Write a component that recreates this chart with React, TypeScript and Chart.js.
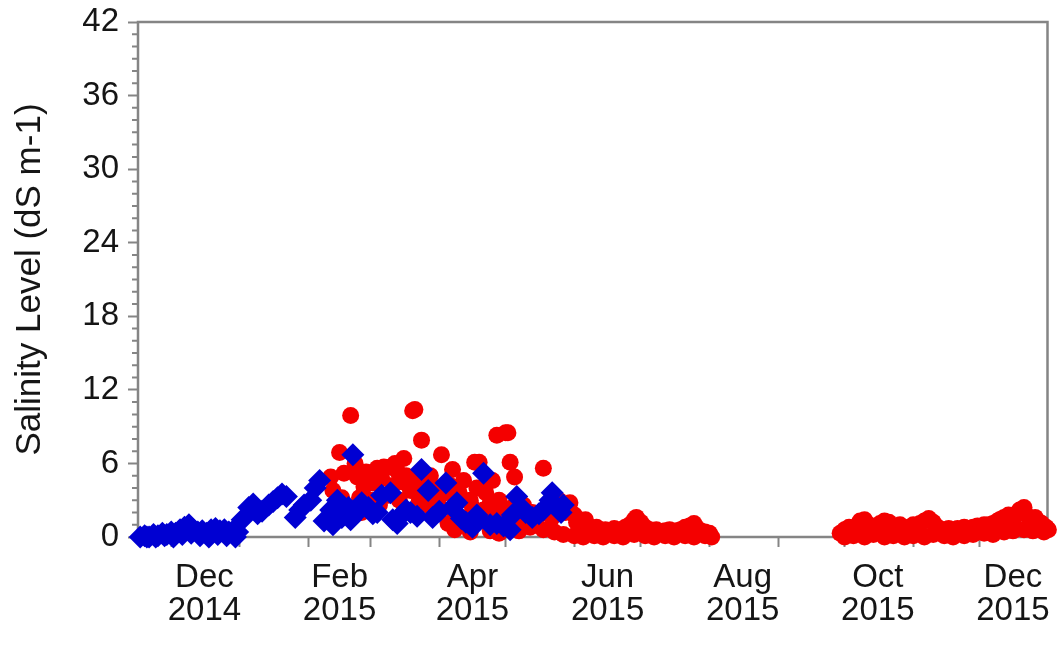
import { useEffect, useRef } from 'react';
import { Chart, registerables } from 'chart.js';

Chart.register(...registerables);

// x values are days counted from 1 Jan 2015 (negative = late 2014)
const blueDays = [
  -45, -43, -41, -39, -37, -35, -33, -31, -29, -27, -25, -23, -21, -19, -17, -15, -13, -11, -9, -7, -5, -3, -1,
  -42, -38, -34, -30, -26, -22, -18, -14, -10, -6, -2,
  1, 4, 6, 8, 10, 13, 15, 17, 19, 21, 25, 27, 29, 32, 34, 36, 38, 41, 42, 44, 46, 49, 50, 51, 53, 55, 58, 60, 62, 64,
  68, 69, 71, 73, 75, 77, 80, 82, 85, 87, 90, 93, 96, 98, 100, 102, 105, 107, 108, 110, 113, 116, 119, 122, 123, 125,
  127, 129, 132, 135, 137, 140, 141, 143, 145, 146,
];
const blueValues = [
  0.0, 0.1, 0.0, 0.2, 0.1, 0.3, 0.2, 0.4, 0.3, 0.6, 0.8, 1.0, 0.6, 0.4, 0.5, 0.3, 0.6, 0.7, 0.5, 0.6, 0.4, 0.5, 0.4,
  0.0, 0.0, 0.1, 0.0, 0.2, 0.3, 0.1, 0.0, 0.2, 0.1, 0.0,
  1.4, 2.4, 2.7, 1.9, 2.1, 2.6, 2.9, 3.2, 3.5, 3.3, 1.6, 2.2, 2.6, 3.0, 4.0, 4.6, 1.3, 2.2, 1.0, 3.0, 1.6, 2.4, 1.4, 6.7, 2.0, 2.8, 2.4, 1.9, 2.0, 3.4,
  3.6, 1.4, 1.1, 1.8, 2.2, 2.0, 1.7, 5.5, 3.8, 1.6, 2.1, 4.4, 2.4, 2.8, 1.5, 1.2, 0.8, 1.8, 1.4, 5.2, 1.0, 1.1, 0.9, 0.6, 1.8, 3.3,
  2.4, 2.0, 1.6, 1.9, 2.2, 3.0, 3.6, 2.4, 2.0, 2.6,
];

const redDays = [
  41, 42, 44, 45, 46, 47, 49, 50, 52, 53, 54, 55, 56, 57, 59, 60, 61, 62, 63, 64, 65, 67, 68, 69, 70, 71, 72, 73, 74, 75,
  77, 78, 79, 80, 81, 82, 83, 85, 86, 87, 88, 90, 91, 93, 94, 95, 96, 97, 98, 99, 100, 101, 102, 104, 105, 106, 107, 108,
  110, 111, 112, 113, 114, 115, 116, 117, 119, 120, 121, 122, 123, 124, 125, 126, 127, 128, 130, 132, 133, 135, 137, 139,
  141, 142, 144, 146, 147, 149, 151, 152, 154, 156, 158, 160, 161, 163, 165, 167, 169, 170, 172, 174, 176, 178, 179, 181,
  183, 185, 187, 188, 190, 192, 194, 196, 197, 199, 201, 203, 205, 206, 208, 210, 212,
  146, 151, 155, 160, 164, 169, 173, 178, 183, 187, 192, 196, 201, 205, 210, 213,
  97, 104, 113, 117, 126, 131, 137, 142,
  271, 273, 275, 277, 279, 280, 282, 284, 286, 288, 289, 291, 293, 295, 297, 298, 300, 302, 304, 306, 307, 309, 311, 313,
  315, 316, 318, 320, 322, 324, 325, 327, 329, 331, 333, 334, 336, 338, 340, 342, 343, 345, 347, 349, 351, 352, 354, 355,
  357, 359, 361, 362, 364, 365,
  273, 277, 282, 286, 291, 295, 300, 304, 309, 313, 318, 322, 327, 331, 336, 340, 345, 349, 354, 358, 363,
];
const redValues = [
  4.9, 3.8, 2.5, 6.9, 3.2, 5.2, 2.0, 9.9, 6.0, 4.9, 3.2, 2.0, 4.1, 5.3, 3.0, 4.4, 5.0, 5.6, 2.6, 4.8, 5.7, 3.4, 5.7, 4.2, 6.0, 5.4, 3.0, 4.5, 6.4, 5.0,
  3.8, 10.3, 10.4, 4.6, 3.0, 7.9, 4.4, 2.6, 5.0, 3.3, 4.0, 2.5, 6.7, 3.6, 1.1, 4.2, 5.5, 2.0, 3.6, 3.6, 1.6, 4.6, 1.4, 3.0, 2.4, 6.1, 4.0, 6.1,
  2.2, 3.6, 4.6, 2.8, 4.6, 1.8, 8.3, 3.0, 2.0, 8.5, 8.5, 6.1, 2.4, 4.9, 1.8, 2.8, 1.5, 2.6, 1.2, 2.0, 1.6, 1.8, 5.6, 2.2,
  1.6, 2.0, 3.0, 2.6, 2.0, 2.8, 1.8, 1.2, 1.0, 1.4, 0.8, 0.6, 0.8, 0.5, 0.6, 0.4, 0.7, 0.5, 0.6, 0.8, 1.0, 1.4, 1.6, 1.2,
  0.8, 0.6, 0.5, 0.6, 0.4, 0.5, 0.6, 0.4, 0.5, 0.6, 0.8, 0.9, 1.1, 0.8, 0.5, 0.4, 0.3,
  0.2, 0.1, 0.0, 0.1, 0.0, 0.1, 0.0, 0.2, 0.1, 0.0, 0.1, 0.0, 0.1, 0.0, 0.1, 0.0,
  0.6, 0.4, 0.5, 0.3, 0.5, 0.8, 0.6, 0.4,
  0.3, 0.6, 0.8, 0.6, 1.0, 1.3, 1.4, 1.0, 0.8, 0.9, 1.1, 1.3, 1.2, 0.9, 0.8, 1.0, 0.7, 0.8, 1.0, 0.9, 1.1, 1.3, 1.5, 1.2,
  0.8, 0.6, 0.6, 0.7, 0.6, 0.7, 0.6, 0.8, 0.7, 0.8, 0.9, 0.8, 1.0, 1.0, 1.1, 1.3, 1.4, 1.6, 1.8, 1.4, 1.9, 2.2, 2.4, 1.8,
  1.4, 1.6, 1.2, 1.1, 0.8, 0.6,
  0.0, 0.1, 0.0, 0.2, 0.0, 0.1, 0.0, 0.1, 0.0, 0.2, 0.1, 0.0, 0.1, 0.2, 0.3, 0.2, 0.4, 0.5, 0.6, 0.5, 0.4,
];

// month starts (tick marks) and mid-month label positions, in days from 1 Jan 2015
const monthStartDays = [-31, 0, 31, 59, 90, 120, 151, 181, 212, 243, 273, 304, 334];
const labelDays = [-16, 45, 105, 166, 227, 288, 349];
const labelTexts = [
  ['Dec', '2014'],
  ['Feb', '2015'],
  ['Apr', '2015'],
  ['Jun', '2015'],
  ['Aug', '2015'],
  ['Oct', '2015'],
  ['Dec', '2015'],
];
const xMin = -46;
const xMax = 364.6;
const yMin = 0;
const yMax = 42;
const yStep = 6;
const yTitle = 'Salinity Level (dS m-1)';

const AXIS = '#858585';
const TEXT = '#151515';
const FONT = 'Liberation Sans, Arial, sans-serif';

const framePlugin = {
  id: 'frame',
  beforeDatasetsDraw(chart: any) {
    const { ctx, chartArea: a, scales } = chart;
    ctx.save();
    ctx.strokeStyle = AXIS;
    ctx.lineWidth = 2.5;
    ctx.strokeRect(a.left, a.top, a.right - a.left, a.bottom - a.top);
    ctx.lineWidth = 2;
    ctx.beginPath();
    const y = scales.y;
    for (let v = yMin; v <= yMax; v++) {
      if (v % yStep === 0) continue;
      const py = y.getPixelForValue(v);
      ctx.moveTo(a.left - 6, py);
      ctx.lineTo(a.left, py);
    }
    ctx.stroke();
    ctx.restore();
  },
};

export default function App() {
  const ref = useRef<HTMLCanvasElement | null>(null);
  useEffect(() => {
    if (!ref.current) return;
    const chart = new Chart(ref.current, {
      type: 'scatter',
      data: {
        datasets: [
          {
            label: 'blue',
            data: blueDays.map((d, i) => ({ x: d, y: blueValues[i] })),
            pointStyle: 'rectRot',
            pointRadius: 11.5,
            backgroundColor: '#0000d2',
            borderColor: '#0000d2',
            borderWidth: 0,
            clip: false as any,
          },
          {
            label: 'red',
            data: redDays.map((d, i) => ({ x: d, y: redValues[i] })),
            pointStyle: 'circle',
            pointRadius: 8.5,
            backgroundColor: '#f40000',
            borderColor: '#f40000',
            borderWidth: 0,
            clip: false as any,
          },
        ],
      },
      options: {
        animation: false,
        responsive: false,
        maintainAspectRatio: false,
        layout: { padding: { top: 22, right: 10, left: 0, bottom: 0 } },
        plugins: { legend: { display: false }, tooltip: { enabled: false } },
        scales: {
          x: {
            type: 'linear',
            min: xMin,
            max: xMax,
            afterBuildTicks: (scale: any) => {
              const all = [...monthStartDays, ...labelDays].sort((p, q) => p - q);
              scale.ticks = all.map((v) => ({ value: v }));
            },
            afterFit: (scale: any) => {
              scale.height = 645 - 537;
              scale.paddingLeft = 0;
              scale.paddingRight = 0;
            },
            border: { display: false },
            grid: {
              drawOnChartArea: false,
              drawTicks: true,
              tickLength: 10,
              tickWidth: 2,
              tickColor: (c: any) => (monthStartDays.includes(c.tick?.value) ? AXIS : 'rgba(0,0,0,0)'),
            },
            ticks: {
              autoSkip: false,
              maxRotation: 0,
              minRotation: 0,
              padding: 14,
              color: TEXT,
              font: { family: FONT, size: 33, lineHeight: 1.0 },
              callback: (v: any) => {
                const i = labelDays.indexOf(Number(v));
                return i >= 0 ? labelTexts[i] : '';
              },
            },
          },
          y: {
            min: yMin,
            max: yMax,
            afterFit: (scale: any) => {
              scale.width = 138;
              scale.paddingTop = 0;
              scale.paddingBottom = 0;
            },
            border: { display: false },
            grid: {
              drawOnChartArea: false,
              drawTicks: true,
              tickLength: 10,
              tickWidth: 2,
              tickColor: AXIS,
            },
            ticks: {
              stepSize: yStep,
              padding: 9,
              color: TEXT,
              font: { family: FONT, size: 33 },
            },
            title: {
              display: true,
              text: yTitle,
              color: TEXT,
              font: { family: FONT, size: 35, lineHeight: 1.2 },
              padding: { top: 9, bottom: 0 },
            },
          },
        },
      },
      plugins: [framePlugin],
    });
    return () => chart.destroy();
  }, []);
  return (
    <div style={{ position: 'fixed', left: 0, top: 0, width: 1059, height: 645, background: '#fff' }}>
      <canvas ref={ref} width={1059} height={645} style={{ display: 'block', width: 1059, height: 645 }} />
    </div>
  );
}
